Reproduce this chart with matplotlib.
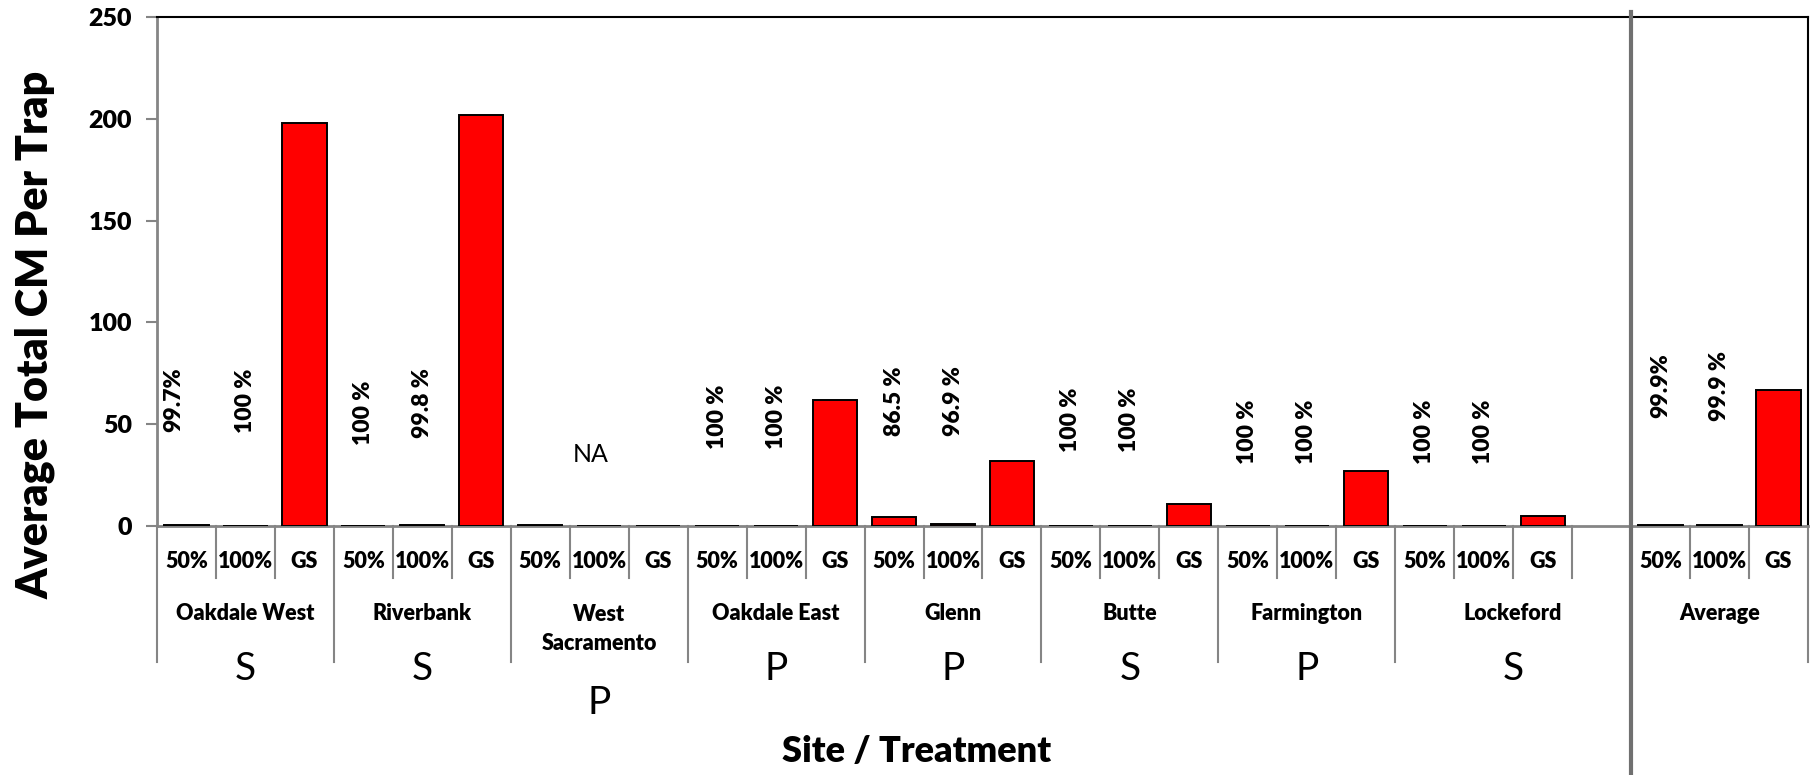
import numpy as np
import matplotlib.pyplot as plt

plt.rcParams['font.family'] = ['Lato', 'DejaVu Sans']

# Data
sites = ['Oakdale West', 'Riverbank', 'West\nSacramento', 'Oakdale East', 'Glenn',
         'Butte', 'Farmington', 'Lockeford', 'Average']
site_type = ['S', 'S', 'P', 'P', 'P', 'S', 'P', 'S', '']
treatments = ['50%', '100%', 'GS']
vals_50 = [0.5, 0.0, 0.4, 0.0, 4.5, 0.0, 0.0, 0.0, 0.5]
vals_100 = [0.0, 0.5, 0.0, 0.0, 1.2, 0.0, 0.0, 0.0, 0.3]
vals_gs = [198, 202, 0, 62, 32, 11, 27, 5, 67]
pct_50 = ['99.7%', '100 %', '', '100 %', '86.5 %', '100 %', '100 %', '100 %', '99.9%']
pct_100 = ['100 %', '99.8 %', '', '100 %', '96.9 %', '100 %', '100 %', '100 %', '99.9 %']

# layout of the category slots (Lockeford has one empty slot)
group_start = [0, 3, 6, 9, 12, 15, 18, 21, 25]
group_width = [3, 3, 3, 3, 3, 3, 3, 4, 3]
n_slots = 28
pct_y_50 = [62, 55.5, 0, 53.5, 61.5, 52, 46.5, 46.5, 69]
pct_y_100 = [61.5, 60.5, 0, 53.5, 61.5, 52, 46.5, 46.5, 69]

BOLD = 800

fig = plt.figure(figsize=(18.14, 7.75), dpi=100)
ax = fig.add_axes([157 / 1814, 1 - 526 / 775, (1808 - 157) / 1814, (526 - 17) / 775])

gray = '#858585'
for i in range(len(sites)):
    x0 = group_start[i]
    vals = [vals_50[i], vals_100[i], vals_gs[i]]
    xs = [x0 + k + 0.5 for k in range(3)]
    ax.bar(xs, vals, width=0.75, color='#FF0000', edgecolor='black', linewidth=1.4, zorder=3)
    # percent labels
    if pct_50[i]:
        dx = -0.22 if i == 0 else 0
        ax.text(xs[0] + dx, pct_y_50[i], pct_50[i], rotation=90, ha='center', va='center',
                fontsize=16.5, fontweight=BOLD)
        ax.text(xs[1], pct_y_100[i], pct_100[i], rotation=90, ha='center', va='center',
                fontsize=16.5, fontweight=BOLD)

ax.text(7.35, 35, 'NA', ha='center', va='center', fontsize=18)

ax.set_xlim(0, n_slots)
ax.set_ylim(0, 250)
ax.set_yticks(np.arange(0, 251, 50))
ax.tick_params(axis='y', direction='out', length=8, width=1.5, color=gray, labelsize=18, pad=10)
for lab in ax.get_yticklabels():
    lab.set_fontweight(BOLD)
ax.set_xticks([])

ax.spines['left'].set_color(gray)
ax.spines['bottom'].set_color(gray)
ax.spines['left'].set_linewidth(2)
ax.spines['bottom'].set_linewidth(2)
ax.spines['top'].set_linewidth(1.5)
ax.spines['right'].set_linewidth(1.5)

# multi-level category axis
trans = ax.get_xaxis_transform()
ax_h = 509.0
def fy(px):
    return (526 - px) / ax_h

short_end = fy(578)
long_end = fy(662)
group_edges = set(group_start + [n_slots])
for b in range(n_slots + 1):
    if b == 25:
        continue
    end = long_end if b in group_edges else short_end
    ax.plot([b, b], [0, end], transform=trans, color=gray, lw=1.5, clip_on=False)

for i in range(len(sites)):
    x0 = group_start[i]
    for k, t in enumerate(treatments):
        ax.text(x0 + k + 0.5, fy(561), t, transform=trans, ha='center', va='center',
                fontsize=15.5, fontweight=BOLD)
    cx = x0 + group_width[i] / 2
    if '\n' in sites[i]:
        ax.text(cx, fy(629), sites[i], transform=trans, ha='center', va='center',
                fontsize=15.5, fontweight=BOLD, linespacing=1.5)
        ax.text(cx, fy(703), site_type[i], transform=trans, ha='center', va='center', fontsize=28)
    else:
        ax.text(cx, fy(613), sites[i], transform=trans, ha='center', va='center',
                fontsize=15.5, fontweight=BOLD)
        ax.text(cx, fy(669), site_type[i], transform=trans, ha='center', va='center', fontsize=28)

# separator before the average group
ax.plot([25, 25], [fy(12), fy(775)], transform=trans, color='#707070', lw=3, clip_on=False, zorder=5)

fig.text(35 / 1814, 1 - 335 / 775, 'Average Total CM Per Trap', rotation=90, ha='center',
         va='center', fontsize=31, fontweight=BOLD)
fig.text(917 / 1814, 23 / 775, 'Site / Treatment', ha='center', va='center',
         fontsize=26, fontweight=BOLD)

fig.savefig('out.png', dpi=100)
